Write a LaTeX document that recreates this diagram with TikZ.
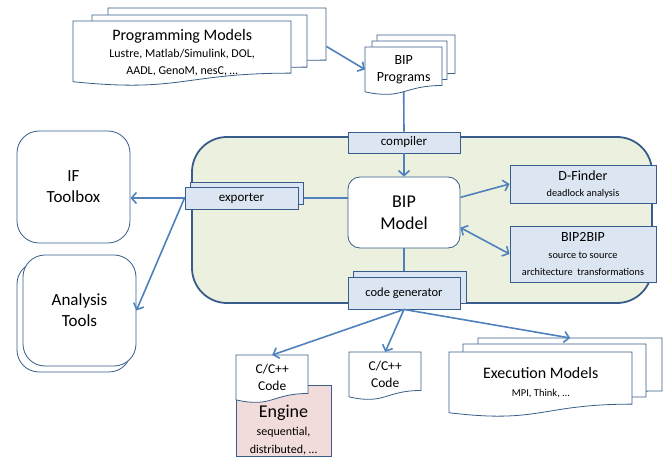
\documentclass[tikz,border=0pt]{standalone}
\usepackage{fontspec}
\setmainfont{Carlito}
\usetikzlibrary{shapes,arrows.meta,calc}
\definecolor{edgeblue}{HTML}{4F81BD}
\definecolor{darkblue}{HTML}{385D8A}
\definecolor{boxblue}{HTML}{DCE6F2}
\definecolor{framegreen}{HTML}{EBF1DE}
\definecolor{enginered}{HTML}{F2DCDB}
\newcommand{\subfont}{\fontsize{12}{14}\selectfont}
\newcommand{\notefont}{\fontsize{10.3}{13}\selectfont}
\tikzstyle{block} = [rectangle, draw=darkblue, fill=boxblue, line width=0.9pt, text centered, inner sep=0pt, font=\fontsize{13}{15}\selectfont]
\tikzstyle{tool} = [rectangle, rounded corners=22pt, draw=darkblue, fill=white, line width=0.8pt, align=center, minimum width=113, minimum height=112, font=\fontsize{17}{21}\selectfont]
\tikzstyle{doc} = [draw=darkblue, fill=white, line width=0.8pt]
\tikzstyle{line} = [draw=edgeblue, line width=1.6pt]
\tikzstyle{arrowline} = [line, -{Straight Barb[length=5pt,width=11pt]}]
% document shape with a wavy bottom: [node opts]{name}{x}{y}{w}{h}{text}
\newcommand{\docshape}[7][]{%
  \draw[doc] (#3,#4) -- ({#3+#5},#4) -- ({#3+#5},{#4+0.802*#6})
    .. controls ({#3+0.5*#5},{#4+0.802*#6}) and ({#3+0.5*#5},{#4+1.107*#6}) .. (#3,{#4+0.934*#6}) -- cycle;
  \node[anchor=north west, minimum width=#5, minimum height={0.93*#6}, inner sep=0pt, align=center, #1] (#2) at (#3,#4) {#7};
}
\begin{document}
\begin{tikzpicture}[x=1pt,y=-1pt]

\useasboundingbox (0,0) rectangle (672,457);

% BIP frame
\node[draw=darkblue, fill=framegreen, line width=1.8pt, rounded corners=35pt, minimum width=460, minimum height=166] (bipframe) at (422,220) {};

% inputs
\docshape{pm3}{108}{8}{218}{65}{}
\docshape{pm2}{92}{15}{215}{65}{}
\docshape[font=\fontsize{16}{17}\selectfont, yshift=-1pt]{pm}{73}{21}{218}{65}{Programming Models\\\subfont Lustre, Matlab/Simulink, DOL,\\\subfont AADL, GenoM, nesC, …}
\docshape{bipprog3}{377}{35}{78}{48}{}
\docshape{bipprog2}{372}{41}{75}{48}{}
\docshape[font=\fontsize{14}{17}\selectfont]{bipprog}{365}{47}{77}{48}{BIP\\Programs}

\node[block, minimum width=112, minimum height=21] (compiler) at (404,142.5) {compiler};
\node[rectangle, rounded corners=12pt, draw=darkblue, fill=white, line width=0.8pt, align=center, minimum width=112, minimum height=71, font=\fontsize{18}{22}\selectfont] (bipmodel) at (404,212.5) {BIP\\Model};
\node[block, minimum width=146, minimum height=38, align=center, font=\fontsize{14}{16}\selectfont] (dfinder) at (583,184) {D-Finder\\\notefont deadlock analysis};
\node[block, minimum width=146, minimum height=56, align=center, font=\fontsize{14}{17}\selectfont] (bip2bip) at (583,254) {BIP2BIP\\\notefont source to source\\\notefont architecture\ \ transformations};
\node[block, minimum width=113, minimum height=22] (exporterback) at (247,193) {};
\node[block, minimum width=113, minimum height=22] (exporter) at (241.5,198) {exporter};
\node[block, minimum width=113, minimum height=32] (codegenback) at (410,287) {};
\node[block, minimum width=112, minimum height=32, font=\fontsize{12.5}{15}\selectfont] (codegen) at (404,293) {code generator};

% tools
\node[tool] (iftool) at (73.5,187) {IF\\Toolbox};
\node[tool, minimum width=114, minimum height=110] (analysisback) at (74,317) {};
\node[tool, minimum width=113, minimum height=111] (analysis) at (79.5,310.5) {Analysis\\Tools};

% outputs
\node[rectangle, draw=darkblue, fill=enginered, line width=0.8pt, minimum width=95, minimum height=71] (engine) at (283.5,420.5) {};
\node[align=center, font=\fontsize{18}{18}\selectfont] (enginetext) at (283.5,430) {Engine\\\fontsize{12}{15}\selectfont sequential,\\\fontsize{12}{15}\selectfont distributed, …};
\docshape[font=\fontsize{13.5}{17}\selectfont]{cpp}{236}{355}{72}{48}{C/C++\\Code}
\docshape[font=\fontsize{13.5}{17}\selectfont]{cppb}{349}{352}{72}{48}{C/C++\\Code}
\docshape{em3}{478}{338}{184}{66}{}
\docshape{em2}{463}{344}{183}{66}{}
\docshape[font=\fontsize{16}{18}\selectfont]{em}{449}{352}{183}{65}{Execution Models\\\fontsize{10.5}{13}\selectfont MPI, Think, …}

% connectors
\path[arrowline] ($(pm3.east)+(0,8)$) -- (bipprog.west);
\path[line] (bipprog.south) -- (compiler.north);
\path[arrowline] (compiler.south) -- (bipmodel.north);
\path[line] (bipmodel.south) -- (bipmodel.south |- codegenback.north);
\path[arrowline] (bipmodel.15) -- (dfinder.west);
\path[arrowline, {Straight Barb[length=5pt,width=11pt]}-{Straight Barb[length=5pt,width=11pt]}] (bipmodel.-15) -- (bip2bip.west);
\path[line] (exporter.east -| bipmodel.west) -- (exporter.east -| exporterback.east);
\path[arrowline] (exporter.west) -- (exporter.west -| iftool.east);
\path[arrowline] (exporter.west) -- (analysis.east);
\path[arrowline] (codegen.south) -- (cpp.north);
\path[arrowline] (codegen.south) -- (cppb.north);
\path[arrowline] (codegen.south) -- (em3.north);

\end{tikzpicture}
\end{document}
